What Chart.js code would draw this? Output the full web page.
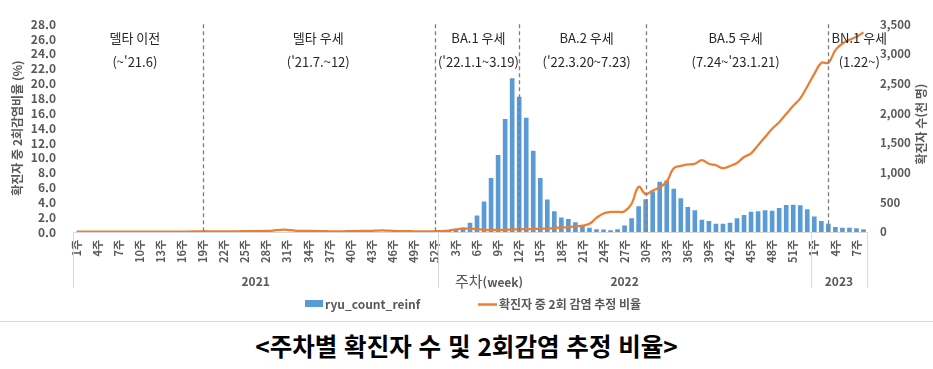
<!DOCTYPE html>
<html lang="ko">
<head>
<meta charset="utf-8">
<script src="https://cdn.jsdelivr.net/npm/chart.js@4.4.1/dist/chart.umd.min.js"></script>
<style>
  html, body { margin: 0; padding: 0; background: #fff; }
  #wrap { width: 933px; height: 321px; }
  #rule { width: 933px; height: 1px; background: #d9d9d9; }
  #title {
    width: 933px; margin-top: 6px; line-height: 32px; text-align: center;
    font: bold 24.5px 'Noto Sans CJK KR', sans-serif; color: #000;
  }
</style>
</head>
<body>
<div id="wrap"><canvas id="chart" width="933" height="321"></canvas></div>
<div id="rule"></div>
<div id="title">&lt;주차별 확진자 수 및 2회감염 추정 비율&gt;</div>
<script>
// weeks on the x axis, grouped by year
const years = [2021, 2022, 2023];
const weeksInYear = [52, 53, 8];

// weekly confirmed cases (thousands) - right axis
const reinf2021 = [0, 0, 0, 0, 0, 0, 0, 0, 0, 0, 0, 0, 0, 0, 0, 0, 0, 0, 0, 0,
  0, 0, 0, 0, 0, 0, 0, 0, 0, 0, 0, 0, 0, 0, 0, 0, 0, 0, 0, 0,
  0, 0, 0, 0, 0, 0, 0, 0, 0, 0, 0, 0];
const reinf2022 = [25, 28, 38, 75, 155, 280, 515, 908, 1296, 1905,
  2590, 2277, 1925, 1367, 908, 547, 351, 243, 217, 165,
  103, 72, 46, 41, 31, 46, 108, 232, 434, 553,
  686, 847, 867, 730, 568, 419, 366, 206, 186, 139,
  139, 155, 232, 288, 340, 350, 366, 356, 403, 454,
  460, 449, 383];
const reinf2023 = [263, 186, 139, 83, 72, 72, 62, 46];

// share of confirmed cases estimated as reinfections (%) - left axis
const ratio2021 = [0.05, 0.05, 0.05, 0.05, 0.05, 0.05, 0.05, 0.05, 0.05, 0.05,
  0.05, 0.05, 0.05, 0.05, 0.06, 0.06, 0.06, 0.08, 0.1, 0.1,
  0.1, 0.1, 0.1, 0.1, 0.12, 0.12, 0.12, 0.15, 0.2, 0.3,
  0.3, 0.2, 0.15, 0.15, 0.12, 0.12, 0.1, 0.1, 0.1, 0.12,
  0.12, 0.15, 0.15, 0.2, 0.2, 0.15, 0.12, 0.12, 0.1, 0.1,
  0.1, 0.1];
const ratio2022 = [0.12, 0.2, 0.35, 0.45, 0.45, 0.4, 0.3, 0.3, 0.3, 0.3,
  0.35, 0.35, 0.4, 0.4, 0.45, 0.45, 0.55, 0.6, 0.65, 0.75,
  0.85, 1.1, 1.9, 2.5, 2.7, 2.7, 2.8, 3.8, 6.1, 5.1,
  5.6, 6.0, 6.8, 8.6, 8.9, 9.1, 9.2, 9.7, 9.2, 9.0,
  8.6, 8.9, 9.3, 10.1, 10.6, 11.7, 12.8, 13.9, 14.8, 15.9,
  17.0, 18.0, 19.6];
const ratio2023 = [21.3, 22.8, 22.8, 24.5, 25.4, 25.9, 26.3, 26.9];

// variant periods
const periodNames = ['델타 이전', '델타 우세', 'BA.1 우세', 'BA.2 우세', 'BA.5 우세', 'BN.1 우세'];
const periodRanges = ["(~'21.6)", "('21.7.~12)", "('22.1.1~3.19)", "('22.3.20~7.23)", "(7.24~'23.1.21)", '(1.22~)'];
const periodLabelAt = [8.3, 34.4, 57.2, 72.6, 93.8, 111.4];
const periodBreaks = [18, 51, 63, 81, 107];

const weekLabels = [];
weeksInYear.forEach(n => {
  for (let w = 1; w <= n; w++) weekLabels.push(w + '주');
});
const reinf = [...reinf2021, ...reinf2022, ...reinf2023];
const ratio = [...ratio2021, ...ratio2022, ...ratio2023];

const GREY = '#595959';
const FONT = "'Noto Sans CJK KR', sans-serif";

// dividers, period captions, year row, right title and legend
const overlay = {
  id: 'overlay',
  afterDatasetsDraw(chart) {
    const { ctx, chartArea: area, scales: { x } } = chart;
    ctx.save();
    ctx.strokeStyle = '#7f7f7f';
    ctx.lineWidth = 1.3;
    ctx.setLineDash([4, 3]);
    periodBreaks.forEach(i => {
      const px = Math.round(x.getPixelForValue(i)) + 0.5;
      ctx.beginPath();
      ctx.moveTo(px, area.top);
      ctx.lineTo(px, area.bottom);
      ctx.stroke();
    });
    ctx.setLineDash([]);

    ctx.fillStyle = '#262626';
    ctx.textAlign = 'center';
    ctx.textBaseline = 'middle';
    ctx.font = '13px ' + FONT;
    periodNames.forEach((name, i) => {
      const px = x.getPixelForValue(periodLabelAt[i]);
      ctx.fillText(name, px, area.top + 14);
      ctx.fillText(periodRanges[i], px, area.top + 38);
    });
    ctx.restore();
  },
  afterDraw(chart) {
    const { ctx, chartArea: area, scales: { x } } = chart;
    ctx.save();

    // year groups under the week ticks
    let start = 0;
    ctx.strokeStyle = '#d9d9d9';
    ctx.lineWidth = 1;
    ctx.fillStyle = GREY;
    ctx.font = 'bold 12px ' + FONT;
    ctx.textAlign = 'center';
    ctx.textBaseline = 'middle';
    years.forEach((yr, k) => {
      const end = start + weeksInYear[k] - 1;
      const left = Math.round(x.getPixelForValue(start - 0.5)) + 0.5;
      ctx.beginPath();
      ctx.moveTo(left, area.bottom);
      ctx.lineTo(left, area.bottom + 56);
      ctx.stroke();
      ctx.fillText(String(yr), x.getPixelForValue((start + end) / 2), 281);
      start = end + 1;
    });
    const right = Math.round(x.getPixelForValue(start - 0.5)) + 0.5;
    ctx.beginPath();
    ctx.moveTo(right, area.bottom);
    ctx.lineTo(right, area.bottom + 56);
    ctx.stroke();

    // x axis title
    ctx.textAlign = 'left';
    ctx.font = '15px ' + FONT;
    ctx.fillText('주차', 455, 281);
    const w = ctx.measureText('주차').width;
    ctx.font = 'bold 12px ' + FONT;
    ctx.fillText('(week)', 455 + w, 282);

    // right axis title, reading bottom to top
    ctx.save();
    ctx.translate(921, (area.top + area.bottom) / 2 - 4);
    ctx.rotate(-Math.PI / 2);
    ctx.textAlign = 'center';
    ctx.fillText('확진자 수(천 명)', 0, 0);
    ctx.restore();

    // legend
    const [barSet, lineSet] = chart.data.datasets;
    ctx.fillStyle = barSet.backgroundColor;
    ctx.fillRect(305, 300, 18, 7);
    ctx.fillStyle = GREY;
    ctx.textAlign = 'left';
    ctx.fillText(barSet.label, 325, 304);
    ctx.strokeStyle = lineSet.borderColor;
    ctx.lineWidth = 2.5;
    ctx.beginPath();
    ctx.moveTo(478, 304.5);
    ctx.lineTo(497, 304.5);
    ctx.stroke();
    ctx.fillText(lineSet.label, 499, 304);

    ctx.restore();
  }
};

new Chart(document.getElementById('chart'), {
  type: 'bar',
  data: {
    labels: weekLabels,
    datasets: [
      {
        type: 'bar',
        label: 'ryu_count_reinf',
        data: reinf,
        yAxisID: 'y1',
        backgroundColor: '#5B9BD5',
        barPercentage: 0.66,
        categoryPercentage: 1,
        order: 2
      },
      {
        type: 'line',
        label: '확진자 중 2회 감염 추정 비율',
        data: ratio,
        yAxisID: 'y',
        borderColor: '#ED7D31',
        borderWidth: 2.25,
        pointRadius: 0,
        tension: 0.4,
        order: 1
      }
    ]
  },
  options: {
    responsive: false,
    animation: false,
    devicePixelRatio: 1,
    layout: { padding: { top: 6, left: 0, right: 0, bottom: 0 } },
    plugins: {
      legend: { display: false },
      tooltip: { enabled: false }
    },
    scales: {
      x: {
        grid: { display: false, drawTicks: false },
        border: { display: true, color: '#d9d9d9' },
        ticks: {
          autoSkip: false,
          minRotation: 90,
          maxRotation: 90,
          padding: 8,
          color: GREY,
          font: { family: FONT, size: 11, weight: 'bold' },
          callback: (v, i) => (i % 3 === 0 ? weekLabels[i] : '')
        },
        afterFit: s => { s.height = 89; }
      },
      y: {
        position: 'left',
        min: 0,
        max: 28,
        grid: { display: false, drawTicks: false },
        border: { display: false },
        ticks: {
          stepSize: 2,
          autoSkip: false,
          padding: 17,
          color: GREY,
          font: { family: FONT, size: 12, weight: 'bold' },
          callback: v => v.toFixed(1)
        },
        title: {
          display: true,
          text: '확진자 중 2회감염비율 (%)',
          color: GREY,
          font: { family: FONT, size: 12, weight: 'bold' },
          padding: { top: 10, bottom: 0 }
        },
        afterFit: s => { s.width = 73; }
      },
      y1: {
        position: 'right',
        min: 0,
        max: 3500,
        grid: { display: false, drawTicks: false },
        border: { display: false },
        ticks: {
          stepSize: 500,
          autoSkip: false,
          padding: 13,
          color: GREY,
          font: { family: FONT, size: 11.5, weight: 'bold' },
          callback: v => v.toLocaleString('en-US')
        },
        afterFit: s => { s.width = 66; }
      }
    }
  },
  plugins: [overlay]
});
</script>
</body>
</html>
